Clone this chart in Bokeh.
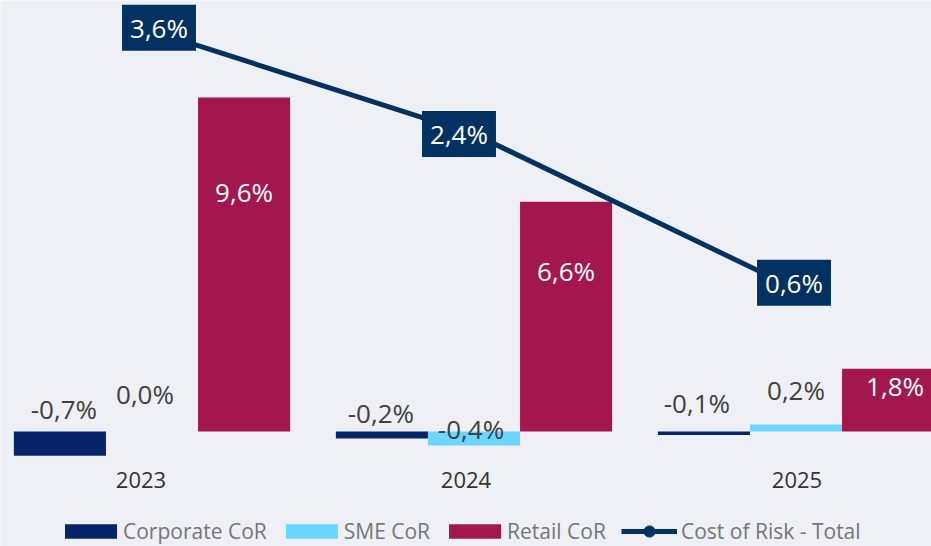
import numpy as np
from bokeh.plotting import figure
from bokeh.models import Range1d, Legend, LegendItem, ColumnDataSource
from bokeh.core.properties import value
from bokeh.embed import file_html
from bokeh.resources import INLINE

# ---------------- data ----------------
years = ["2023", "2024", "2025"]
corporate = [-0.7, -0.2, -0.1]
sme = [0.0, -0.4, 0.2]
retail = [9.6, 6.6, 1.8]
total = [3.6, 2.4, 0.6]
series_names = ["Corporate CoR", "SME CoR", "Retail CoR", "Cost of Risk - Total"]

# ---------------- style ----------------
C_CORP = "#05246a"
C_SME = "#6dd6ff"
C_RET = "#a3164e"
C_TOT = "#033262"
BG = "#eff0f6"
FONT = "Open Sans"
LABEL_GREY = "#404040"
LEGEND_GREY = "#767676"

bar_w = 0.286
offsets = [-0.286, 0.0, 0.286]

# pixel nudges of the value labels (x right, y down)
corp_dx, corp_dy = [4, -1, -7], [-22, -18, -28]
sme_dx, sme_dy = [-7, -3, 0], [-37, -2, -35]
ret_dx, ret_dy = [0, 0, 7], [95, 69, 17]
tot_dx, tot_dy = [7, -15, -2], [-3, 0, -6]
year_dx, year_dy = [-11, -8, 1], [49, 49, 49]


def fmt(v):
    return f"{v:.1f}%".replace(".", ",")


x = np.arange(len(years))

p = figure(
    width=931, height=546,
    x_range=Range1d(-0.4705, 2.4208),
    y_range=Range1d(-3.305, 12.385),
    x_axis_location=None, y_axis_location=None,
    output_backend="svg", toolbar_location=None,
    background_fill_color=BG, border_fill_color=BG,
    outline_line_color=None, min_border=0,
)
p.extra_y_ranges = {"cor": Range1d(-2.396, 3.953)}
p.xgrid.visible = False
p.ygrid.visible = False

renderers = []
for vals, off, col, dx, dy, tcol in [
    (corporate, offsets[0], C_CORP, corp_dx, corp_dy, LABEL_GREY),
    (sme, offsets[1], C_SME, sme_dx, sme_dy, LABEL_GREY),
    (retail, offsets[2], C_RET, ret_dx, ret_dy, "#ffffff"),
]:
    src = ColumnDataSource(dict(
        x=x + off, top=vals,
        ly=[max(v, 0) for v in vals],
        lab=[fmt(v) for v in vals], dx=dx, dy=dy,
    ))
    r = p.vbar(x="x", top="top", bottom=0, width=bar_w, source=src,
               fill_color=col, line_color=None)
    renderers.append(r)
    p.text(x="x", y="ly", text="lab", source=src, x_offset="dx", y_offset="dy",
           text_align="center", text_baseline="middle",
           text_font=value(FONT), text_font_size="26px", text_color=tcol)

# category (year) labels under the zero line
ysrc = ColumnDataSource(dict(x=x, y=[0] * len(years), lab=years, dx=year_dx, dy=year_dy))
p.text(x="x", y="y", text="lab", source=ysrc, x_offset="dx", y_offset="dy",
       text_align="center", text_baseline="middle",
       text_font=value(FONT), text_font_size="22px", text_color="#333333")

tsrc = ColumnDataSource(dict(x=x, y=total, lab=[fmt(v) for v in total],
                             dx=tot_dx, dy=tot_dy))
r_line = p.line(x="x", y="y", source=tsrc, y_range_name="cor",
                line_color=C_TOT, line_width=5)
r_pts = p.scatter(x="x", y="y", source=tsrc, y_range_name="cor", size=12,
                  fill_color=C_TOT, line_color=C_TOT)
p.text(x="x", y="y", text="lab", source=tsrc, y_range_name="cor",
       x_offset="dx", y_offset="dy",
       text_align="center", text_baseline="middle",
       text_font=value(FONT), text_font_size="26px", text_color="#ffffff",
       background_fill_color=C_TOT, padding=(8, 5))

legend_bars = Legend(
    items=[
        LegendItem(label=series_names[0], renderers=[renderers[0]]),
        LegendItem(label=series_names[1], renderers=[renderers[1]]),
        LegendItem(label=series_names[2], renderers=[renderers[2]]),
    ],
    orientation="horizontal", location=(58, 1),
    glyph_width=65, glyph_height=18, label_standoff=0, spacing=12,
    label_text_font=FONT, label_text_font_size="21px", label_text_color=LEGEND_GREY,
    background_fill_alpha=0, border_line_color=None, padding=0, margin=0,
)
legend_line = Legend(
    items=[LegendItem(label=series_names[3], renderers=[r_line, r_pts])],
    orientation="horizontal", location=(621, 1),
    glyph_width=56, glyph_height=28, label_standoff=4, spacing=0,
    label_text_font=FONT, label_text_font_size="21px", label_text_color=LEGEND_GREY,
    background_fill_alpha=0, border_line_color=None, padding=0, margin=0,
)
p.add_layout(legend_bars)
p.add_layout(legend_line)

open("out.html", "w").write(file_html(p, INLINE))
